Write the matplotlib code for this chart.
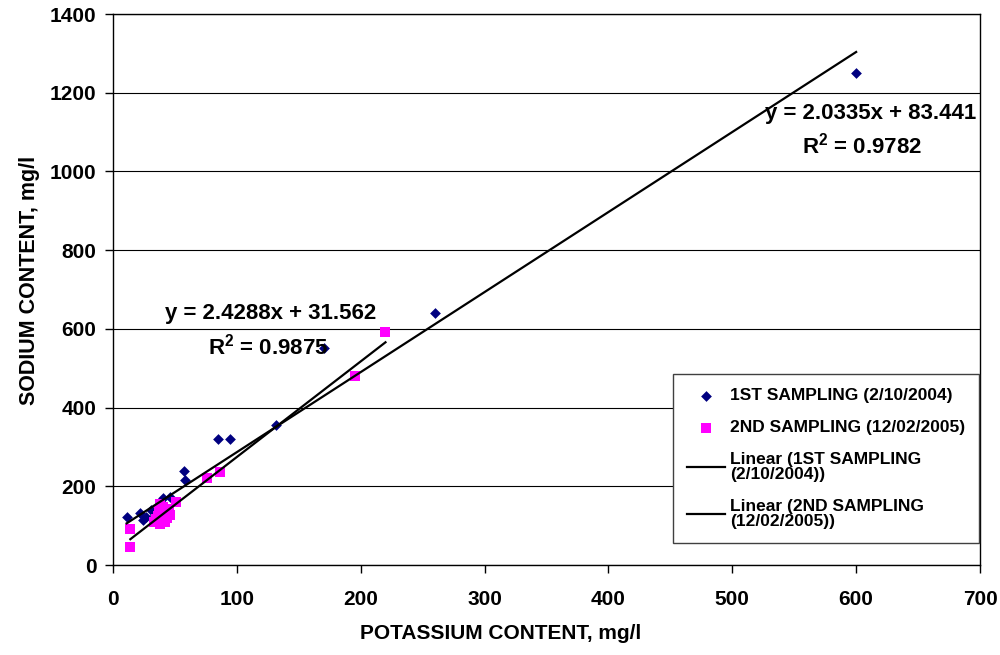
import matplotlib
matplotlib.use("Agg")
import matplotlib.pyplot as plt
import numpy as np

plt.rcParams['font.family'] = ['Liberation Sans', 'DejaVu Sans']
plt.rcParams['font.weight'] = 'bold'
plt.rcParams['mathtext.fontset'] = 'custom'
plt.rcParams['mathtext.default'] = 'bf'
plt.rcParams['mathtext.bf'] = 'Liberation Sans:bold'
plt.rcParams['mathtext.rm'] = 'Liberation Sans:bold'

# potassium (x) and sodium (y) content, mg/l
k_first = [11, 22, 24.5, 27, 31, 34, 40.5, 46, 57.5, 58.5, 85, 94.5, 131.5, 170, 260, 600]
na_first = [123, 131, 114, 123, 140, 128, 169, 173, 240, 217, 320, 320, 357, 552, 640, 1250]

k_second = [14, 14, 33, 35, 36, 37, 38, 39, 40, 41, 42, 43, 44, 45, 46, 38,
            50.5, 76, 86.5, 195, 220]
na_second = [92, 47, 110, 118, 125, 140, 105, 130, 148, 115, 108, 135, 120, 142, 128, 155,
             161, 222, 237, 479, 591]

# linear trendlines (slope, intercept, r2) and the x span they cover
fit_first = (2.0335, 83.441, 0.9782)
fit_second = (2.4288, 31.562, 0.9875)
span_first = (min(k_first), max(k_first))
span_second = (min(k_second), max(k_second))

label_first = "1ST SAMPLING (2/10/2004)"
label_second = "2ND SAMPLING (12/02/2005)"

fig = plt.figure(figsize=(10, 6.55), dpi=100)
ax = fig.add_axes([0.113, 0.1374, 0.867, 0.8412])

ax.scatter(k_first, na_first, marker='D', s=30, color='#000080', zorder=3,
           label=label_first, linewidths=0)
ax.scatter(k_second, na_second, marker='s', s=50, color='#FF00FF', zorder=3,
           label=label_second, linewidths=0)

xs = np.array(span_first)
ax.plot(xs, fit_first[0] * xs + fit_first[1], color='black', lw=1.6, zorder=4,
        label="Linear (1ST SAMPLING\n(2/10/2004))")
xs = np.array(span_second)
ax.plot(xs, fit_second[0] * xs + fit_second[1], color='black', lw=1.6, zorder=4,
        label="Linear (2ND SAMPLING\n(12/02/2005))")

ax.set_xlim(0, 700)
ax.set_ylim(0, 1400)
ax.set_xticks(np.arange(0, 701, 100))
ax.set_yticks(np.arange(0, 1401, 200))
ax.yaxis.grid(True, color='black', lw=0.8)
ax.set_axisbelow(True)
ax.tick_params(direction='out', length=6, width=1, labelsize=15, colors='black')
ax.tick_params(axis='x', pad=12)
ax.tick_params(axis='y', pad=6)
for sp in ax.spines.values():
    sp.set_color('black')
    sp.set_linewidth(1)

ax.set_xlabel("POTASSIUM CONTENT, mg/l", fontsize=15, fontweight='bold')
ax.set_ylabel("SODIUM CONTENT, mg/l", fontsize=15.5, fontweight='bold')
ax.xaxis.set_label_coords(0.4475, -0.107)
ax.yaxis.set_label_coords(-0.084, 0.517)

# trendline equations
ax.text(127, 640, f"y = {fit_second[0]}x + {fit_second[1]}", ha='center', va='center',
        fontsize=16, fontweight='bold', zorder=5)
ax.text(125, 554, f"R$^2$ = {fit_second[2]}", ha='center', va='center',
        fontsize=16, fontweight='bold', zorder=5)
ax.text(697, 1148, f"y = {fit_first[0]}x + {fit_first[1]}", ha='right', va='center',
        fontsize=16, fontweight='bold', zorder=5)
ax.text(605, 1067, f"R$^2$ = {fit_first[2]}", ha='center', va='center',
        fontsize=16, fontweight='bold', zorder=5)

leg = ax.legend(loc='upper left', bbox_to_anchor=(0.6459, 0.3466),
                fontsize=12.5, frameon=True, fancybox=False,
                edgecolor='#404040', framealpha=1, borderaxespad=0,
                handlelength=2.2, handletextpad=0.3, labelspacing=0.97,
                borderpad=0.8)
for t in leg.get_texts():
    t.set_linespacing(1.0)
leg.get_frame().set_linewidth(1)
leg.set_zorder(6)

fig.savefig("out.png", dpi=100)
